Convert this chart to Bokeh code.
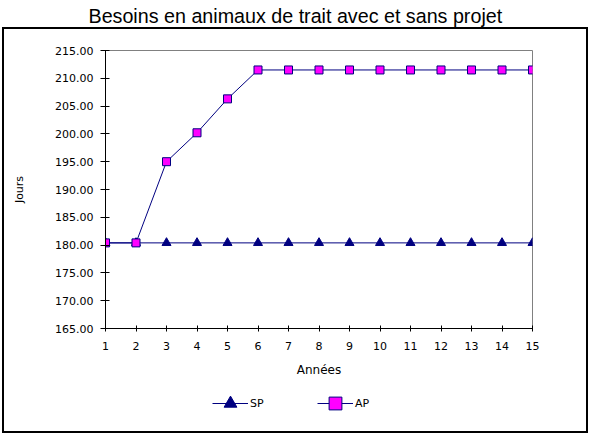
from bokeh.plotting import figure
from bokeh.layouts import column
from bokeh.models import (Range1d, FixedTicker, NumeralTickFormatter, Legend,
                          LegendItem, InlineStyleSheet, Title)
from bokeh.embed import file_html
from bokeh.resources import INLINE

# ---- data ----
annees = [1, 2, 3, 4, 5, 6, 7, 8, 9, 10, 11, 12, 13, 14, 15]
sp = [180.4, 180.4, 180.4, 180.4, 180.4, 180.4, 180.4, 180.4,
      180.4, 180.4, 180.4, 180.4, 180.4, 180.4, 180.4]
ap = [180.4, 180.4, 195.0, 200.2, 206.3, 211.5, 211.5, 211.5,
      211.5, 211.5, 211.5, 211.5, 211.5, 211.5, 211.5]
y_ticks = [165, 170, 175, 180, 185, 190, 195, 200, 205, 210, 215]
x_ticks = annees
series_names = ["SP", "AP"]
title = "Besoins en animaux de trait avec et sans projet"

# ---- layout constants (pixels) ----
W, H, HL = 589, 385, 50                      # main figure, legend strip
FL, FR, FT, FB = 105, 532, 50, 328           # frame edges

NAVY = "#000080"
MAG = "#FF00FF"
TF = "DejaVu Sans"

p = figure(width=W, height=H,
           x_range=Range1d(annees[0], annees[-1]),
           y_range=Range1d(y_ticks[0], y_ticks[-1]),
           output_backend="svg", toolbar_location=None, title=None,
           min_border_left=FL, min_border_right=W - FR,
           min_border_top=FT, min_border_bottom=H - FB)
p.outline_line_color = "#808080"
p.outline_line_width = 1
p.grid.visible = False
p.background_fill_color = "white"
p.border_fill_color = "white"

# titles: a blank spacer next to the frame, the real title above it
spacer = Title(text=" ", text_font_size="10px", standoff=9)
main_title = Title(text=title, align="left", offset=-17, vertical_align="top",
                   standoff=0, text_font="Liberation Sans",
                   text_font_size="19.7px", text_font_style="normal",
                   text_color="black")
p.add_layout(spacer, "above")
p.add_layout(main_title, "above")

# y axis
ya = p.yaxis[0]
ya.ticker = FixedTicker(ticks=y_ticks)
ya.formatter = NumeralTickFormatter(format="0.00")
ya.major_tick_in = 4
ya.major_tick_out = 5
ya.minor_tick_line_color = None
ya.axis_line_color = "black"
ya.major_tick_line_color = "black"
ya.major_label_standoff = 7
ya.major_label_text_font = TF
ya.major_label_text_font_size = "11px"
ya.major_label_text_color = "black"
ya.axis_label = "Jours"
ya.axis_label_text_font = TF
ya.axis_label_text_font_size = "11px"
ya.axis_label_text_font_style = "normal"
ya.axis_label_text_color = "black"
ya.axis_label_standoff = 26

# x axis
xa = p.xaxis[0]
xa.ticker = FixedTicker(ticks=x_ticks)
xa.major_tick_in = 3
xa.major_tick_out = 3
xa.minor_tick_line_color = None
xa.axis_line_color = "black"
xa.major_tick_line_color = "black"
xa.major_label_standoff = 10
xa.major_label_text_font = TF
xa.major_label_text_font_size = "11px"
xa.major_label_text_color = "black"
xa.axis_label = "Années"
xa.axis_label_text_font = TF
xa.axis_label_text_font_size = "12px"
xa.axis_label_text_font_style = "normal"
xa.axis_label_text_color = "black"
xa.axis_label_standoff = 10

# series
p.line(annees, sp, line_color=NAVY, line_width=1)
p.scatter(annees, sp, marker="triangle", size=9,
          fill_color=NAVY, line_color=NAVY)
p.line(annees, ap, line_color=NAVY, line_width=1)
p.scatter(annees, ap, marker="square", size=8,
          fill_color=MAG, line_color=NAVY, line_width=1)

# ---- legend strip (separate figure so the legend is not clipped) ----
# its ranges lie outside the data, so only the legend samples show
pl = figure(width=W, height=HL, x_range=Range1d(-2, -1), y_range=Range1d(-2, -1),
            output_backend="svg", toolbar_location=None,
            x_axis_type=None, y_axis_type=None,
            min_border_left=0, min_border_right=0,
            min_border_top=0, min_border_bottom=0)
pl.outline_line_color = None
pl.grid.visible = False
pl.background_fill_color = "white"
pl.border_fill_color = "white"

l_sp_line = pl.line(annees, sp, line_color=NAVY, line_width=1)
l_sp_pts = pl.scatter(annees, sp, marker="triangle",
                      fill_color=NAVY, line_color=NAVY)
l_ap_line = pl.line(annees, ap, line_color=NAVY, line_width=1)
l_ap_pts = pl.scatter(annees, ap, marker="square",
                      fill_color=MAG, line_color=NAVY, line_width=1)

legend = Legend(items=[LegendItem(label=series_names[0], renderers=[l_sp_line, l_sp_pts]),
                       LegendItem(label=series_names[1], renderers=[l_ap_line, l_ap_pts])],
                orientation="horizontal", location=(212 - FL, 16),
                glyph_width=36, glyph_height=32, label_standoff=2,
                label_width=20, spacing=47, padding=0, margin=0,
                border_line_color=None, background_fill_alpha=0,
                label_text_font=TF, label_text_font_size="11px",
                label_text_color="black")
pl.add_layout(legend, "center")

# ---- outer chart border, drawn as overlays on both parts ----
p.stylesheets = [InlineStyleSheet(css="""
:host::after {
  content: ""; position: absolute; box-sizing: border-box;
  left: 2px; width: 586px; top: 27px; height: 358px;
  border: 2px solid black; border-bottom: none;
  pointer-events: none; z-index: 100;
}
""")]
pl.stylesheets = [InlineStyleSheet(css="""
:host::after {
  content: ""; position: absolute; box-sizing: border-box;
  left: 2px; width: 586px; top: 0px; height: 48px;
  border: 2px solid black; border-top: none;
  pointer-events: none; z-index: 100;
}
""")]

layout = column(p, pl, spacing=0)
open("out.html", "w").write(file_html(layout, INLINE))
